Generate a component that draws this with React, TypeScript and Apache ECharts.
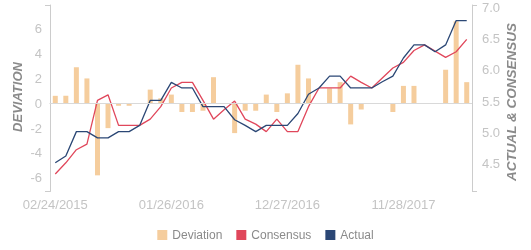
import React, { useEffect, useRef } from "react";
import * as echarts from "echarts";

const categories = [
  "02/24/2015", "03/31/2015", "04/28/2015", "05/26/2015", "06/30/2015", "07/28/2015",
  "08/25/2015", "09/29/2015", "10/27/2015", "11/24/2015", "12/29/2015",
  "01/26/2016", "02/23/2016", "03/29/2016", "04/26/2016", "05/31/2016", "06/28/2016",
  "07/26/2016", "08/30/2016", "09/27/2016", "10/25/2016", "11/29/2016", "12/27/2016",
  "01/31/2017", "02/28/2017", "03/28/2017", "04/25/2017", "05/30/2017", "06/27/2017",
  "07/25/2017", "08/29/2017", "09/26/2017", "10/31/2017", "11/28/2017", "12/26/2017",
  "01/30/2018", "02/27/2018", "03/27/2018", "04/24/2018", "05/29/2018",
];

const deviation = [
  0.6, 0.6, 2.9, 2.0, -5.8, -2.0, -0.2, -0.2, 0, 1.1, 0.4, 0.7, -0.7, -0.7, -0.6, 2.1,
  0, -2.4, -0.6, -0.6, 0.7, -0.7, 0.8, 3.1, 2.0, 0, 1.2, 1.7, -1.7, -0.5, 0, 0, -0.7,
  1.4, 1.4, 0, 0, 2.7, 6.6, 1.7,
];

const consensus = [
  4.33, 4.51, 4.72, 4.81, 5.51, 5.6, 5.11, 5.11, 5.11, 5.21, 5.41, 5.71, 5.8, 5.8, 5.51,
  5.21, 5.36, 5.5, 5.21, 5.13, 5.01, 5.21, 5.01, 5.01, 5.41, 5.71, 5.71, 5.71, 5.9, 5.8,
  5.71, 5.87, 6.03, 6.12, 6.31, 6.4, 6.3, 6.2, 6.29, 6.49,
];

const actual = [
  4.51, 4.62, 5.01, 5.01, 4.91, 4.91, 5.01, 5.01, 5.11, 5.51, 5.51, 5.8, 5.71, 5.71, 5.41,
  5.41, 5.41, 5.2, 5.11, 5.01, 5.11, 5.11, 5.11, 5.3, 5.61, 5.71, 5.9, 5.9, 5.71, 5.71,
  5.71, 5.81, 5.9, 6.19, 6.4, 6.4, 6.29, 6.4, 6.79, 6.79,
];

const leftTicks = [-6, -4, -2, 0, 2, 4, 6];
const rightTicks = [4.5, 5.0, 5.5, 6.0, 6.5, 7.0];

const LEFT_MIN = -7.1;
const LEFT_MAX = 7.91;
const RIGHT_MIN = 4.05;
const RIGHT_MAX = 7.04;

const FONT = "'Liberation Sans', Arial, sans-serif";
const AXIS_COLOR = "#cccccc";
const LABEL_COLOR = "#c4c4c4";
const TITLE_COLOR = "#8a8a8a";

export default function App() {
  const ref = useRef<HTMLDivElement>(null);

  useEffect(() => {
    const chart = echarts.init(ref.current!, null, { renderer: "svg" });
    chart.setOption({
      animation: false,
      textStyle: { fontFamily: FONT },
      grid: { left: 50, right: 59, top: 5, bottom: 58.5, containLabel: false },
      legend: {
        data: ["Deviation", "Consensus", "Actual"],
        left: "center",
        top: 224,
        icon: "rect",
        itemWidth: 10,
        itemHeight: 10,
        itemGap: 14,
        textStyle: { color: TITLE_COLOR, fontSize: 12, fontFamily: FONT },
      },
      xAxis: {
        type: "category",
        data: categories,
        boundaryGap: true,
        axisLine: { show: true, lineStyle: { color: AXIS_COLOR, width: 1 } },
        axisTick: { show: true, interval: 40, length: 4, lineStyle: { color: AXIS_COLOR } },
        axisLabel: { interval: 10, color: LABEL_COLOR, fontSize: 13, margin: 6, fontFamily: FONT },
        splitLine: { show: false },
      },
      yAxis: [
        {
          type: "value",
          position: "left",
          min: LEFT_MIN,
          max: LEFT_MAX,
          axisLine: { show: true, lineStyle: { color: AXIS_COLOR, width: 1 } },
          axisTick: { show: true, customValues: [LEFT_MIN, LEFT_MAX], length: 5, lineStyle: { color: AXIS_COLOR } },
          axisLabel: { customValues: leftTicks, color: LABEL_COLOR, fontSize: 13, margin: 8, fontFamily: FONT },
          splitLine: { show: false },
        },
        {
          type: "value",
          position: "right",
          min: RIGHT_MIN,
          max: RIGHT_MAX,
          axisLine: { show: true, lineStyle: { color: AXIS_COLOR, width: 1 } },
          axisTick: { show: true, customValues: [RIGHT_MIN, RIGHT_MAX], length: 5, lineStyle: { color: AXIS_COLOR } },
          axisLabel: {
            customValues: rightTicks,
            color: LABEL_COLOR,
            fontSize: 13,
            margin: 10,
            fontFamily: FONT,
            formatter: (v: number) => v.toFixed(1),
          },
          splitLine: { show: false },
        },
      ],
      graphic: [
        {
          type: "text",
          x: 17,
          y: 97,
          rotation: Math.PI / 2,
          style: {
            text: "DEVIATION",
            fill: TITLE_COLOR,
            font: `italic bold 13px ${FONT}`,
            align: "center",
            verticalAlign: "middle",
          },
        },
        {
          type: "text",
          x: 511,
          y: 102,
          rotation: Math.PI / 2,
          style: {
            text: "ACTUAL & CONSENSUS",
            fill: TITLE_COLOR,
            font: `italic bold 13.5px ${FONT}`,
            align: "center",
            verticalAlign: "middle",
          },
        },
      ],
      series: [
        {
          name: "Deviation",
          type: "bar",
          yAxisIndex: 0,
          data: deviation,
          barWidth: 5,
          itemStyle: { color: "#f5cd9d" },
          markLine: {
            silent: true,
            symbol: ["none", "none"],
            label: { show: false },
            lineStyle: { color: "#d9d9d9", type: "solid", width: 1 },
            data: [{ yAxis: 0 }],
          },
        },
        {
          name: "Consensus",
          type: "line",
          yAxisIndex: 1,
          data: consensus,
          showSymbol: false,
          symbol: "none",
          itemStyle: { color: "#e0475b" },
          lineStyle: { color: "#e0475b", width: 1.3 },
        },
        {
          name: "Actual",
          type: "line",
          yAxisIndex: 1,
          data: actual,
          showSymbol: false,
          symbol: "none",
          itemStyle: { color: "#2b4775" },
          lineStyle: { color: "#2b4775", width: 1.3 },
        },
      ],
    });
    return () => chart.dispose();
  }, []);

  return (
    <div
      ref={ref}
      style={{ position: "fixed", left: 0, top: 0, width: 531, height: 250 }}
    />
  );
}
